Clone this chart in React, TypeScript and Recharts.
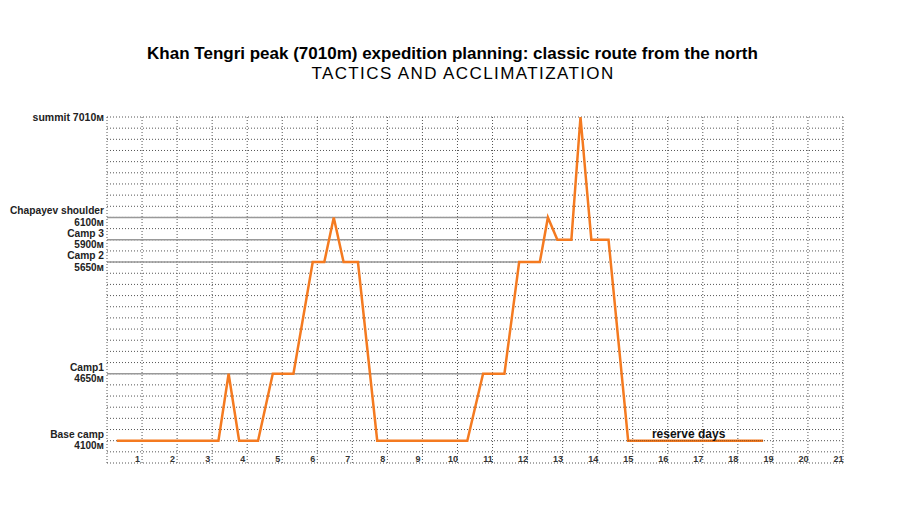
import React from 'react';
import {
    LineChart,
    Line,
    XAxis,
    YAxis,
    CartesianGrid,
    ReferenceLine
} from 'recharts';

// camps on the route (names, altitude in metres, row on the chart's y grid)
const campNames = ['Base camp', 'Camp1', 'Camp 2', 'Camp 3', 'Chapayev shoulder', 'summit'];
const campAltitudes = [4100, 4650, 5650, 5900, 6100, 7010];
const campLevels = [2, 8, 18, 20, 22, 31];
// solid guide line for each camp runs from day 0 up to this day (null = none)
const campLineEnds = [null, 10.73, 11.76, 12.85, 12.58, null];

// route: day of the expedition and altitude reached
const routeDays = [
    0.28, 3.18, 3.47, 3.77, 4.31, 4.73, 5.32, 5.87, 6.2, 6.47, 6.75, 7.16, 7.71,
    10.28, 10.73, 11.34, 11.76, 12.35, 12.58, 12.85, 13.25, 13.51, 13.82, 14.31, 14.87, 18.72
];
const routeAltitudes = [
    4100, 4100, 4650, 4100, 4100, 4650, 4650, 5650, 5650, 6100, 5650, 5650, 4100,
    4100, 4650, 4650, 5650, 5650, 6100, 5900, 5900, 7010, 5900, 5900, 4100, 4100
];

// reserve days at base camp
const reserveStart = 14.87;
const reserveEnd = 18.72;

const dayTicks = [0, 1, 2, 3, 4, 5, 6, 7, 8, 9, 10, 11, 12, 13, 14, 15, 16, 17, 18, 19, 20, 21];
const levelTicks = Array.from({ length: 32 }, (_, i) => i);

const levelOf = (alt: number) => campLevels[campAltitudes.indexOf(alt)];

const chartData = routeDays.map((d, i) => ({
    day: d,
    altitude: routeAltitudes[i],
    level: levelOf(routeAltitudes[i])
}));

const FONT = '"Liberation Sans", Arial, sans-serif';

const YTick = (props: any) => {
    const { x, y, payload } = props;
    const i = campLevels.indexOf(payload.value);
    if (i < 0) return <g />;
    if (campNames[i] === 'summit') {
        return (
            <text x={x} y={y + 3.5} textAnchor="end" fontSize={10.5} fontWeight="bold" fill="#222" fontFamily={FONT}>
                {`${campNames[i]} ${campAltitudes[i]}м`}
            </text>
        );
    }
    return (
        <g>
            <text x={x} y={y - 3} textAnchor="end" fontSize={10.2} fontWeight="bold" fill="#222" fontFamily={FONT}>
                {campNames[i]}
            </text>
            <text x={x} y={y + 8.5} textAnchor="end" fontSize={10} fontWeight="bold" fill="#222" fontFamily={FONT}>
                {`${campAltitudes[i]}м`}
            </text>
        </g>
    );
};

const XTick = (props: any) => {
    const { x, y, payload } = props;
    if (payload.value === 0) return <g />;
    return (
        <text x={x - 4.5} y={y - 1.5} textAnchor="middle" fontSize={9} fontWeight="bold" fill="#333" fontFamily={FONT}>
            {payload.value}
        </text>
    );
};

export default function App() {
    return (
        <div style={{ position: 'absolute', left: 0, top: 0, width: 900, height: 511, background: '#fff', fontFamily: FONT }}>
            <div style={{ position: 'absolute', left: 0, width: 905, top: 46, lineHeight: '16px', textAlign: 'center', fontSize: 17, fontWeight: 'bold', color: '#000' }}>
                Khan Tengri peak (7010m) expedition planning: classic route from the north
            </div>
            <div style={{ position: 'absolute', left: 0, width: 926, top: 66, lineHeight: '16px', textAlign: 'center', fontSize: 17, letterSpacing: 1.4, color: '#000' }}>
                TACTICS AND ACCLIMATIZATION
            </div>
            <div style={{ position: 'absolute', left: 0, top: 0 }}>
                <LineChart width={900} height={511} data={chartData} margin={{ top: 117, right: 57, bottom: 0, left: 0 }}>
                    <CartesianGrid stroke="#555" strokeDasharray="1 2" />
                    <XAxis
                        dataKey="day"
                        type="number"
                        domain={[0, 21]}
                        ticks={dayTicks}
                        interval={0}
                        height={48}
                        tickSize={0}
                        tickMargin={0}
                        axisLine={false}
                        tickLine={false}
                        tick={<XTick />}
                    />
                    <YAxis
                        type="number"
                        domain={[0, 31]}
                        ticks={levelTicks}
                        interval={0}
                        width={107}
                        tickSize={0}
                        tickMargin={3}
                        axisLine={false}
                        tickLine={false}
                        tick={<YTick />}
                    />
                    {campLevels.map((lv, i) =>
                        campLineEnds[i] == null ? null : (
                            <ReferenceLine
                                key={`camp-${i}`}
                                segment={[{ x: 0, y: lv }, { x: campLineEnds[i] as number, y: lv }]}
                                stroke="#999"
                                strokeWidth={1.5}
                            />
                        )
                    )}
                    <Line
                        type="linear"
                        dataKey="level"
                        stroke="#F47A20"
                        strokeWidth={2.5}
                        dot={false}
                        isAnimationActive={false}
                    />
                    <ReferenceLine
                        segment={[{ x: reserveStart, y: levelOf(4100) }, { x: reserveEnd, y: levelOf(4100) }]}
                        stroke="#8a4a1a"
                        strokeDasharray="1 1"
                        strokeWidth={1}
                        label={{ value: 'reserve days', position: 'top', offset: 3, dx: -7, fontSize: 12, fontWeight: 'bold', fill: '#111', fontFamily: FONT }}
                    />
                </LineChart>
            </div>
        </div>
    );
}
